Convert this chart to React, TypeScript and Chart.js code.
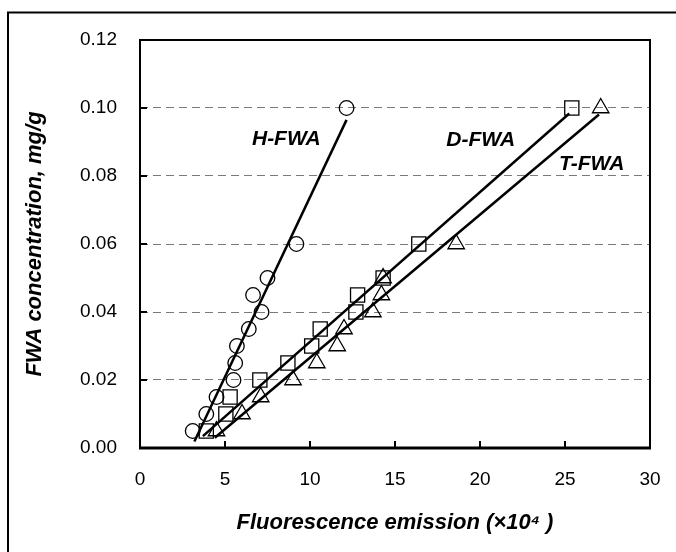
import React, { useEffect, useRef } from "react";
import { Chart, registerables } from "chart.js";

Chart.register(...registerables);

// FWA concentration (mg/g) for every measured sample
const concentrations = [0.005, 0.01, 0.015, 0.02, 0.025, 0.03, 0.035, 0.04, 0.045, 0.05, 0.06, 0.1];
// Fluorescence emission (x10^4) per series
const hFwaEmission = [3.1, 3.9, 4.5, 5.5, 5.6, 5.7, 6.4, 7.15, 6.65, 7.5, 9.2, 12.15];
const dFwaEmission = [3.9, 5.05, 5.3, 7.05, 8.7, 10.1, 10.6, 12.7, 12.8, 14.3, 16.4, 25.4];
const tFwaEmission = [4.5, 6.0, 7.1, 9.0, 10.4, 11.6, 12.0, 13.7, 14.2, 14.3, 18.6, 27.1];

// Linear fit end points (emission, concentration)
const hFitX = [3.2, 12.15];
const hFitY = [0.0019, 0.0965];
const dFitX = [3.7, 25.25];
const dFitY = [0.0035, 0.0984];
const tFitX = [4.4, 27.0];
const tFitY = [0.003, 0.0981];

// Series labels and their anchor positions (data coordinates)
const seriesLabels = ["H-FWA", "D-FWA", "T-FWA"];
const labelX = [8.61, 20.04, 26.57];
const labelY = [0.0909, 0.0906, 0.0835];

// Axis ticks
const xTicks = [0, 5, 10, 15, 20, 25, 30];
const yTicks = [0, 0.02, 0.04, 0.06, 0.08, 0.1, 0.12];

const FONT = "'Liberation Sans', Arial, Helvetica, sans-serif";

const pts = (xs: number[], ys: number[]) => xs.map((x, i) => ({ x, y: ys[i] }));

const decorPlugin = {
  id: "decor",
  afterDraw(chart: any) {
    const { ctx, chartArea: a, scales } = chart;
    const xs = scales.x;
    const ys = scales.y;
    ctx.save();
    // outer frame (left & top edges only visible)
    ctx.strokeStyle = "#000";
    ctx.lineWidth = 2;
    ctx.beginPath();
    ctx.moveTo(8, 600);
    ctx.lineTo(8, 12.5);
    ctx.lineTo(700, 12.5);
    ctx.stroke();
    // plot box
    ctx.lineWidth = 2;
    ctx.beginPath();
    ctx.rect(a.left, a.top, a.right - a.left, a.bottom - a.top);
    ctx.stroke();
    ctx.lineWidth = 3;
    ctx.beginPath();
    ctx.moveTo(a.left - 1, a.bottom);
    ctx.lineTo(a.right + 1, a.bottom);
    ctx.stroke();
    // inward ticks
    ctx.lineWidth = 2;
    ctx.beginPath();
    xTicks.forEach((v) => {
      const px = Math.round(xs.getPixelForValue(v));
      ctx.moveTo(px, a.bottom);
      ctx.lineTo(px, a.bottom - 7);
    });
    yTicks.forEach((v) => {
      const py = Math.round(ys.getPixelForValue(v));
      ctx.moveTo(a.left, py);
      ctx.lineTo(a.left + 7, py);
    });
    ctx.stroke();
    // series labels
    ctx.fillStyle = "#000";
    ctx.font = `italic bold 21px ${FONT}`;
    ctx.textAlign = "center";
    ctx.textBaseline = "middle";
    seriesLabels.forEach((t, i) => {
      ctx.fillText(t, xs.getPixelForValue(labelX[i]), ys.getPixelForValue(labelY[i]));
    });
    ctx.restore();
  },
};

export default function App() {
  const ref = useRef<HTMLCanvasElement>(null);
  useEffect(() => {
    const marker = {
      showLine: false,
      borderColor: "#000",
      backgroundColor: "rgba(0,0,0,0)",
      pointBorderWidth: 1.3,
      pointBackgroundColor: "rgba(0,0,0,0)",
      pointBorderColor: "#000",
    };
    const fit = {
      showLine: true,
      borderColor: "#000",
      borderWidth: 2.5,
      pointRadius: 0,
      fill: false,
    };
    const chart = new Chart(ref.current as HTMLCanvasElement, {
      type: "scatter",
      data: {
        datasets: [
          { ...fit, label: "H-FWA fit", data: pts(hFitX, hFitY) },
          { ...fit, label: "D-FWA fit", data: pts(dFitX, dFitY) },
          { ...fit, label: "T-FWA fit", data: pts(tFitX, tFitY) },
          { ...marker, label: "H-FWA", data: pts(hFwaEmission, concentrations), pointStyle: "circle", pointRadius: 7.3 },
          { ...marker, label: "D-FWA", data: pts(dFwaEmission, concentrations), pointStyle: "rect", pointRadius: 10 },
          { ...marker, label: "T-FWA", data: pts(tFwaEmission, concentrations), pointStyle: "triangle", pointRadius: 9.5 },
        ] as any,
      },
      options: {
        animation: false,
        responsive: false,
        devicePixelRatio: 1,
        layout: { padding: { left: 0, top: 40, right: 26, bottom: 0 } },
        plugins: { legend: { display: false }, tooltip: { enabled: false } },
        scales: {
          x: {
            type: "linear",
            min: 0,
            max: 30,
            afterBuildTicks: (s: any) => {
              s.ticks = xTicks.map((v) => ({ value: v }));
            },
            afterFit: (s: any) => {
              s.height = 104;
              s.paddingLeft = 0;
              s.paddingRight = 0;
            },
            ticks: {
              color: "#000",
              font: { family: FONT, size: 19 },
              padding: 20,
              maxRotation: 0,
            },
            grid: { display: false, drawTicks: false },
            border: { display: false },
            title: {
              display: true,
              text: "Fluorescence emission (×10⁴ )",
              color: "#000",
              font: { family: FONT, size: 22, style: "italic", weight: "bold" },
              padding: { top: 0, bottom: 16 },
            },
          },
          y: {
            type: "linear",
            min: 0,
            max: 0.12,
            afterBuildTicks: (s: any) => {
              s.ticks = yTicks.map((v) => ({ value: v }));
            },
            afterFit: (s: any) => {
              s.width = 140;
              s.paddingTop = 0;
              s.paddingBottom = 0;
            },
            ticks: {
              color: "#000",
              font: { family: FONT, size: 19 },
              padding: 23,
              callback: (v: any) => Number(v).toFixed(2),
            },
            grid: {
              drawTicks: false,
              lineWidth: 1,
              color: (c: any) =>
                c.tick && c.tick.value > 0.001 && c.tick.value < 0.119 ? "#7a7a7a" : "rgba(0,0,0,0)",
            },
            border: { display: false, dash: [8, 5] },
            title: {
              display: true,
              text: "FWA concentration, mg/g",
              color: "#000",
              font: { family: FONT, size: 22, style: "italic", weight: "bold" },
              padding: { top: 22, bottom: 0 },
            },
          },
        },
      } as any,
      plugins: [decorPlugin],
    });
    return () => chart.destroy();
  }, []);
  return (
    <canvas
      ref={ref}
      width={676}
      height={552}
      style={{ position: "absolute", left: 0, top: 0, width: 676, height: 552, display: "block" }}
    />
  );
}
